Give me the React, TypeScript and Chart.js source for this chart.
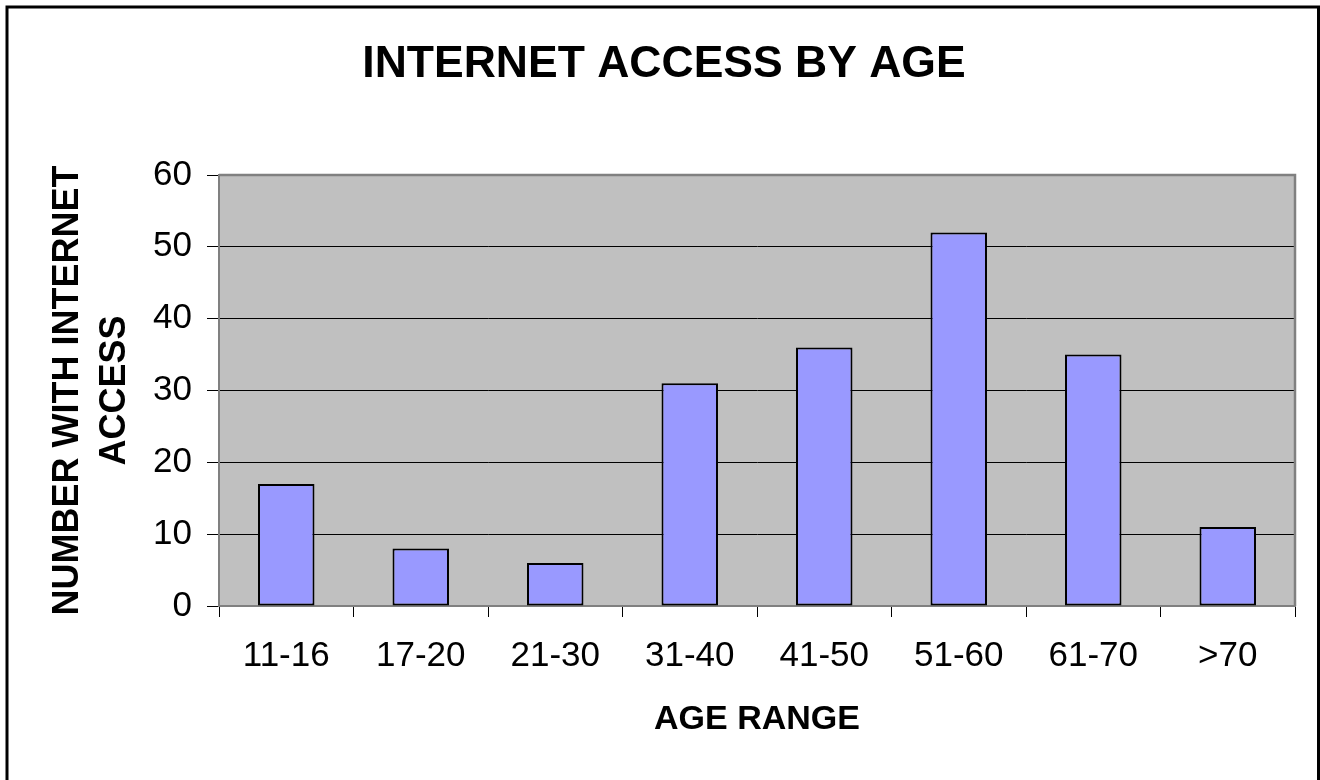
import React, { useEffect, useRef } from "react";
import { Chart, registerables } from "chart.js";

Chart.register(...registerables);

const TITLE = "INTERNET ACCESS BY AGE";
const X_TITLE = "AGE RANGE";
const Y_TITLE = ["NUMBER WITH INTERNET", "ACCESS"];
const AGE_RANGES = ["11-16", "17-20", "21-30", "31-40", "41-50", "51-60", "61-70", ">70"];
const COUNTS = [17, 8, 6, 31, 36, 52, 35, 11];
const Y_MIN = 0;
const Y_MAX = 60;
const Y_STEP = 10;

const FONT = "'Liberation Sans', Arial, Helvetica, sans-serif";

const framePlugin = {
  id: "excelFrame",
  beforeDraw(chart: any) {
    const { ctx, width, height, chartArea } = chart;
    ctx.save();
    ctx.fillStyle = "#ffffff";
    ctx.fillRect(0, 0, width, height);
    ctx.fillStyle = "#C0C0C0";
    ctx.fillRect(
      chartArea.left,
      chartArea.top,
      chartArea.right - chartArea.left,
      chartArea.bottom - chartArea.top
    );
    ctx.restore();
  },
  beforeDatasetsDraw(chart: any) {
    const { ctx, chartArea } = chart;
    ctx.save();
    ctx.strokeStyle = "#808080";
    ctx.lineWidth = 2.5;
    ctx.beginPath();
    ctx.moveTo(chartArea.left, chartArea.top);
    ctx.lineTo(chartArea.right, chartArea.top);
    ctx.lineTo(chartArea.right, chartArea.bottom);
    ctx.stroke();
    ctx.restore();
  },
  afterDraw(chart: any) {
    const { ctx, width } = chart;
    ctx.save();
    ctx.strokeStyle = "#000000";
    ctx.lineWidth = 3;
    ctx.strokeRect(7, 7, width - 7 - 1.5, 800);
    ctx.restore();
  },
};

export default function App() {
  const ref = useRef<HTMLCanvasElement | null>(null);

  useEffect(() => {
    document.body.style.margin = "0";
    document.body.style.overflow = "hidden";
    const canvas = ref.current;
    if (!canvas) return;
    const chart = new Chart(canvas, {
      type: "bar",
      data: {
        labels: AGE_RANGES,
        datasets: [
          {
            data: COUNTS,
            backgroundColor: "#9999FF",
            borderColor: "#000000",
            borderWidth: 2,
            borderSkipped: false,
            categoryPercentage: 1,
            barPercentage: 0.42,
          },
        ],
      },
      options: {
        responsive: false,
        animation: false,
        devicePixelRatio: 1,
        layout: { padding: { left: 33, right: 25, top: 0, bottom: 0 } },
        plugins: {
          legend: { display: false },
          tooltip: { enabled: false },
          title: {
            display: true,
            text: TITLE,
            color: "#000000",
            font: { family: FONT, size: 44.5, weight: "bold", lineHeight: 1.2 },
            padding: { top: 38, bottom: 83.6 },
          },
        },
        scales: {
          x: {
            afterFit: (scale: any) => {
              scale.height = 174;
            },
            grid: {
              display: true,
              drawOnChartArea: false,
              drawTicks: true,
              tickLength: 11,
              color: "#000000",
              offset: true,
            },
            border: { display: true, color: "#808080", width: 2 },
            ticks: {
              color: "#000000",
              font: { family: FONT, size: 35 },
              padding: 18,
              maxRotation: 0,
            },
            title: {
              display: true,
              text: X_TITLE,
              color: "#000000",
              font: { family: FONT, size: 34, weight: "bold", lineHeight: 1.2 },
              padding: { top: 0, bottom: 40 },
            },
          },
          y: {
            min: Y_MIN,
            max: Y_MAX,
            afterFit: (scale: any) => {
              scale.width = 186;
            },
            grid: {
              display: true,
              drawOnChartArea: true,
              drawTicks: true,
              tickLength: 12,
              color: "#000000",
              lineWidth: 1,
            },
            border: { display: true, color: "#808080", width: 2 },
            ticks: {
              stepSize: Y_STEP,
              color: "#000000",
              font: { family: FONT, size: 35 },
              padding: 15,
            },
            title: {
              display: true,
              text: Y_TITLE,
              color: "#000000",
              font: { family: FONT, size: 36, weight: "bold", lineHeight: 1.29 },
              padding: { top: 12, bottom: 0 },
            },
          },
        },
      },
      plugins: [framePlugin],
    });
    return () => chart.destroy();
  }, []);

  return <canvas ref={ref} width={1320} height={780} style={{ display: "block" }} />;
}
